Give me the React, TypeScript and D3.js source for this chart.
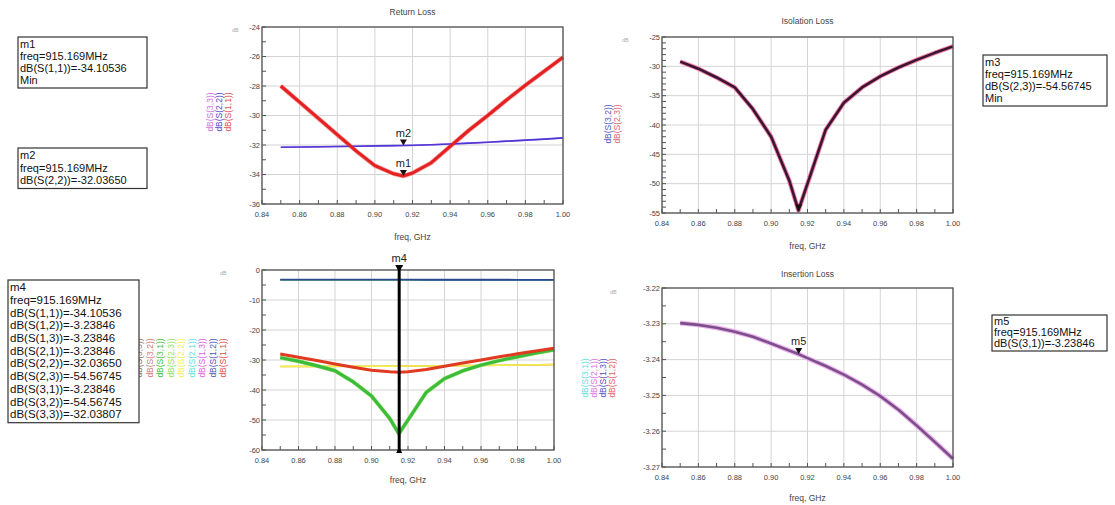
import React from "react";
import * as d3 from "d3";

const freqs = [0.85, 0.86, 0.87, 0.88, 0.89, 0.9, 0.91, 0.915, 0.92, 0.93, 0.94, 0.95, 0.96, 0.97, 0.98, 0.99, 1.0];
const s11 = [-28.0, -29.1, -30.2, -31.3, -32.4, -33.4, -33.95, -34.105, -33.9, -33.2, -32.1, -31.0, -30.0, -28.95, -27.95, -27.0, -26.05];
const s22 = [-32.15, -32.14, -32.12, -32.1, -32.08, -32.06, -32.045, -32.0365, -32.02, -31.98, -31.93, -31.87, -31.81, -31.74, -31.67, -31.6, -31.52];
const s33 = [-32.16, -32.15, -32.13, -32.11, -32.09, -32.07, -32.05, -32.0381, -32.03, -31.99, -31.94, -31.88, -31.82, -31.75, -31.68, -31.61, -31.53];
const s23 = [-29.2, -30.4, -31.9, -33.6, -37.3, -42.0, -49.5, -54.567, -50.0, -40.8, -36.2, -33.6, -31.7, -30.2, -28.9, -27.7, -26.6];
const s32 = s23.slice();
const s12 = [-3.2298, -3.2303, -3.2311, -3.2322, -3.2336, -3.2355, -3.2375, -3.23846, -3.2396, -3.2418, -3.2442, -3.247, -3.2502, -3.254, -3.2584, -3.263, -3.2677];
const s13 = s12.slice();
const s21 = s12.slice();
const s31 = s12.slice();

const xTickVals = [0.84, 0.86, 0.88, 0.9, 0.92, 0.94, 0.96, 0.98, 1.0];
const xTickLabels = ["0.84", "0.86", "0.88", "0.90", "0.92", "0.94", "0.96", "0.98", "1.00"];

const rlTicks = [-24, -26, -28, -30, -32, -34, -36];
const isoTicks = [-25, -30, -35, -40, -45, -50, -55];
const allTicks = [0, -10, -20, -30, -40, -50, -60];
const ilTicks = [-3.22, -3.23, -3.24, -3.25, -3.26, -3.27];
const ilTickLabels = ["-3.22", "-3.23", "-3.24", "-3.25", "-3.26", "-3.27"];

const markerFreq = 0.915169;

const m1Lines = ["m1", "freq=915.169MHz", "dB(S(1,1))=-34.10536", "Min"];
const m2Lines = ["m2", "freq=915.169MHz", "dB(S(2,2))=-32.03650"];
const m3Lines = ["m3", "freq=915.169MHz", "dB(S(2,3))=-54.56745", "Min"];
const m4Lines = [
  "m4", "freq=915.169MHz",
  "dB(S(1,1))=-34.10536", "dB(S(1,2))=-3.23846", "dB(S(1,3))=-3.23846",
  "dB(S(2,1))=-3.23846", "dB(S(2,2))=-32.03650", "dB(S(2,3))=-54.56745",
  "dB(S(3,1))=-3.23846", "dB(S(3,2))=-54.56745", "dB(S(3,3))=-32.03807",
];
const m5Lines = ["m5", "freq=915.169MHz", "dB(S(3,1))=-3.23846"];

const FONT = "'Liberation Sans', Arial, sans-serif";

type Series = { data: number[]; color: string; width: number; halo?: string; haloWidth?: number };
type Marker = { v: number; label?: string };
type LegendItem = { text: string; color: string };

type PlotProps = {
  left: number; right: number; top: number; bottom: number;
  yDomain: [number, number];
  yTicks: number[];
  yLabels?: string[];
  yMinorStep: number;
  title?: string;
  titleY?: number;
  xlabelY: number;
  series: Series[];
  markers?: Marker[];
  legend: LegendItem[];
  legendX: number;
  legendStep: number;
  legendY: number;
  unitX: number;
  unitY: number;
  vmarker?: boolean;
};

function Plot(p: PlotProps) {
  const x = d3.scaleLinear().domain([0.84, 1.0]).range([p.left, p.right]);
  const y = d3.scaleLinear().domain(p.yDomain).range([p.bottom, p.top]);
  const line = d3.line<number>().x((_, i) => x(freqs[i])).y((d) => y(d));
  const xMinor = d3.range(0, 17).map((i) => 0.84 + i * 0.01);
  const nMinor = Math.round((p.yDomain[1] - p.yDomain[0]) / p.yMinorStep);
  const yMinor = d3.range(0, nMinor + 1).map((i) => p.yDomain[0] + i * p.yMinorStep);
  const cx = (p.left + p.right) / 2;
  return (
    <g>
      {xTickVals.map((t) => (
        <line key={"gx" + t} x1={x(t)} x2={x(t)} y1={p.top} y2={p.bottom} stroke="#d4d4d4" strokeWidth={1} />
      ))}
      {p.yTicks.map((t) => (
        <line key={"gy" + t} x1={p.left} x2={p.right} y1={y(t)} y2={y(t)} stroke="#d4d4d4" strokeWidth={1} />
      ))}
      {xMinor.map((t, i) => (
        <line key={"mx" + i} x1={x(t)} x2={x(t)} y1={p.bottom} y2={p.bottom - 4} stroke="#555" strokeWidth={1} />
      ))}
      {yMinor.map((t, i) => (
        <line key={"my" + i} x1={p.left} x2={p.left + 4} y1={y(t)} y2={y(t)} stroke="#555" strokeWidth={1} />
      ))}
      {p.series.map((s, i) =>
        s.halo ? (
          <path key={"h" + i} d={line(s.data) || ""} fill="none" stroke={s.halo} strokeWidth={s.haloWidth} strokeLinejoin="round" />
        ) : null
      )}
      {p.series.map((s, i) => (
        <path key={"s" + i} d={line(s.data) || ""} fill="none" stroke={s.color} strokeWidth={s.width} strokeLinejoin="round" />
      ))}
      <rect x={p.left} y={p.top} width={p.right - p.left} height={p.bottom - p.top} fill="none" stroke="#555" strokeWidth={1.3} />
      {xTickVals.map((t, i) => (
        <text key={"xl" + t} x={x(t)} y={p.bottom + 13} fontSize={7.5} fill="#444" textAnchor="middle" fontFamily={FONT}>
          {xTickLabels[i]}
        </text>
      ))}
      {p.yTicks.map((t, i) => (
        <text key={"yl" + t} x={p.left - 2} y={y(t) + 2.5} fontSize={7.5} fill="#444" textAnchor="end" fontFamily={FONT}>
          {p.yLabels ? p.yLabels[i] : String(t)}
        </text>
      ))}
      <text x={p.unitX} y={p.unitY} fontSize={5.5} fill="#aaa" fontFamily={FONT}>dB</text>
      {p.title ? (
        <text x={cx} y={p.titleY} fontSize={8.5} fill="#444" textAnchor="middle" fontFamily={FONT}>{p.title}</text>
      ) : null}
      <text x={cx} y={p.xlabelY} fontSize={8.5} fill="#444" textAnchor="middle" fontFamily={FONT}>freq, GHz</text>
      {p.legend.map((l, i) => (
        <text
          key={"lg" + i}
          transform={`translate(${p.legendX + i * p.legendStep},${p.legendY}) rotate(-90)`}
          fontSize={8.5}
          fill={l.color}
          textAnchor="middle"
          fontFamily={FONT}
        >
          {l.text}
        </text>
      ))}
      {(p.markers || []).map((m, i) => {
        const mx = x(markerFreq);
        const my = y(m.v);
        return (
          <g key={"mk" + i}>
            <path d={`M${mx - 3.5},${my - 6} L${mx + 3.5},${my - 6} L${mx},${my} Z`} fill="#111" />
            {m.label ? (
              <text x={mx} y={my - 9} fontSize={11} fill="#222" textAnchor="middle" fontFamily={FONT}>{m.label}</text>
            ) : null}
          </g>
        );
      })}
      {p.vmarker ? (
        <g>
          <line x1={x(markerFreq)} x2={x(markerFreq)} y1={p.top - 4} y2={p.bottom + 2} stroke="#000" strokeWidth={3} />
          <path d={`M${x(markerFreq) - 4},${p.top - 5} L${x(markerFreq) + 4},${p.top - 5} L${x(markerFreq)},${p.top + 2} Z`} fill="#000" />
          <path d={`M${x(markerFreq) - 3},${p.bottom + 3} L${x(markerFreq) + 3},${p.bottom + 3} L${x(markerFreq)},${p.bottom - 3} Z`} fill="#000" />
          <text x={x(markerFreq)} y={p.top - 8} fontSize={11} fill="#222" textAnchor="middle" fontFamily={FONT}>m4</text>
        </g>
      ) : null}
    </g>
  );
}

function MarkerBox({ x, y, w, lh, lines, fs }: { x: number; y: number; w: number; lh: number; lines: string[]; fs: number }) {
  const h = lines.length * lh + 3;
  return (
    <g>
      <rect x={x} y={y} width={w} height={h} fill="#fff" stroke="#333" strokeWidth={1.2} />
      {lines.map((t, i) => (
        <text key={i} x={x + 2} y={y + lh * (i + 1) - 1.5} fontSize={fs} fill="#111" fontFamily={FONT}>{t}</text>
      ))}
    </g>
  );
}

export default function App() {
  return (
    <svg width={1115} height={505} style={{ position: "absolute", left: 0, top: 0, background: "#fff" }}>
      <Plot
        left={262} right={563} top={27} bottom={204}
        yDomain={[-36, -24]} yTicks={rlTicks} yMinorStep={1}
        title="Return Loss" titleY={15} xlabelY={240}
        series={[
          { data: s33, color: "#e070e0", width: 1.5 },
          { data: s22, color: "#4a3ad8", width: 1.6 },
          { data: s11, color: "#e42020", width: 3, halo: "#f6a0a0", haloWidth: 4.5 },
        ]}
        markers={[{ v: -32.0365, label: "m2" }, { v: -34.10536, label: "m1" }]}
        legend={[
          { text: "dB(S(3,3))", color: "#d070d8" },
          { text: "dB(S(2,2))", color: "#5048c8" },
          { text: "dB(S(1,1))", color: "#e05050" },
        ]}
        legendX={213} legendStep={9} legendY={112}
        unitX={232} unitY={32}
      />
      <Plot
        left={662} right={953} top={37} bottom={213}
        yDomain={[-55, -25]} yTicks={isoTicks} yMinorStep={1}
        title="Isolation Loss" titleY={24} xlabelY={249}
        series={[
          { data: s32, color: "#f080a0", width: 4.5 },
          { data: s23, color: "#3a1434", width: 2.6 },
        ]}
        markers={[{ v: -54.56745 }]}
        legend={[
          { text: "dB(S(3,2))", color: "#5058c8" },
          { text: "dB(S(2,3))", color: "#e06070" },
        ]}
        legendX={611} legendStep={9} legendY={124}
        unitX={622} unitY={42}
      />
      <Plot
        left={262} right={554} top={270} bottom={450}
        yDomain={[-60, 0]} yTicks={allTicks} yMinorStep={5}
        xlabelY={483}
        series={[
          { data: s13, color: "#e070e0", width: 1.5 },
          { data: s21, color: "#60e0e0", width: 1.5 },
          { data: s31, color: "#40b040", width: 1.5 },
          { data: s12, color: "#2c4a90", width: 1.8 },
          { data: s33, color: "#f0a040", width: 1.6 },
          { data: s22, color: "#f0f050", width: 1.6 },
          { data: s32, color: "#90e060", width: 4 },
          { data: s23, color: "#3cbc3c", width: 3 },
          { data: s11, color: "#e03a20", width: 3 },
        ]}
        legend={[
          { text: "dB(S(3,3))", color: "#907060" },
          { text: "dB(S(3,2))", color: "#d07878" },
          { text: "dB(S(3,1))", color: "#40c040" },
          { text: "dB(S(2,3))", color: "#90e060" },
          { text: "dB(S(2,2))", color: "#f0f050" },
          { text: "dB(S(2,1))", color: "#60e0e0" },
          { text: "dB(S(1,3))", color: "#e060e0" },
          { text: "dB(S(1,2))", color: "#5050c0" },
          { text: "dB(S(1,1))", color: "#e05050" },
        ]}
        legendX={142} legendStep={10.5} legendY={358}
        unitX={220} unitY={275}
        vmarker
      />
      <Plot
        left={662} right={953} top={288} bottom={467}
        yDomain={[-3.27, -3.22]} yTicks={ilTicks} yLabels={ilTickLabels} yMinorStep={0.005}
        title="Insertion Loss" titleY={277} xlabelY={501}
        series={[
          { data: s12, color: "#7a5088", width: 2.6, halo: "#f0b0f0", haloWidth: 5 },
        ]}
        markers={[{ v: -3.23846, label: "m5" }]}
        legend={[
          { text: "dB(S(3,1))", color: "#60e0e0" },
          { text: "dB(S(2,1))", color: "#e070e0" },
          { text: "dB(S(1,3))", color: "#5050c0" },
          { text: "dB(S(1,2))", color: "#e06060" },
        ]}
        legendX={588} legendStep={9} legendY={378}
        unitX={610} unitY={294}
      />
      <MarkerBox x={18} y={37} w={129} lh={12} lines={m1Lines} fs={11} />
      <MarkerBox x={18} y={148} w={129} lh={12.5} lines={m2Lines} fs={11} />
      <MarkerBox x={983} y={55} w={124} lh={12} lines={m3Lines} fs={11} />
      <MarkerBox x={8} y={280} w={131} lh={12.7} lines={m4Lines} fs={11.5} />
      <MarkerBox x={992} y={315} w={115} lh={11} lines={m5Lines} fs={11} />
    </svg>
  );
}
